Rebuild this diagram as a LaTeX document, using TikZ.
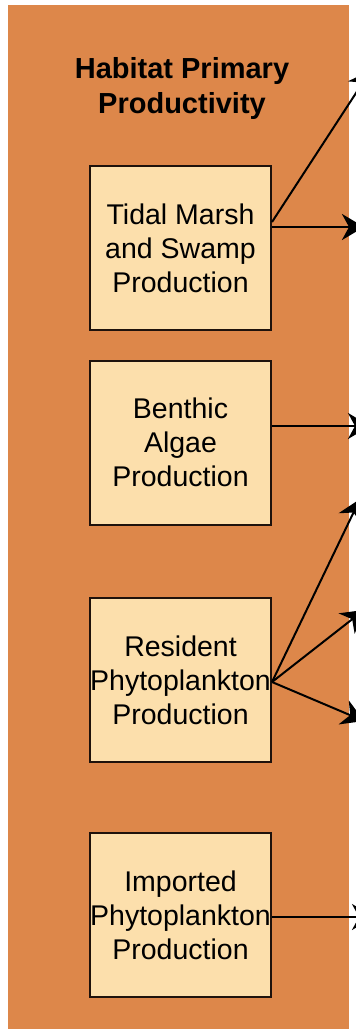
\documentclass[tikz,border=0pt]{standalone}
\usepackage{fontspec}
\setmainfont{Liberation Sans}
\usetikzlibrary{arrows.meta}
\definecolor{panelorange}{RGB}{221,135,74}
\definecolor{boxfill}{RGB}{252,223,172}
\definecolor{boxline}{RGB}{30,18,12}
\tikzset{
  prodbox/.style={draw=boxline, line width=2pt, fill=boxfill, minimum width=181pt, minimum height=164pt, inner sep=0pt, align=center, font=\fontsize{28.5}{34}\selectfont},
  flow/.style={draw=black, line width=2pt, -{Stealth[length=22pt, width=26pt, inset=7pt]}},
  titletext/.style={align=center, font=\bfseries\fontsize{29}{35}\selectfont, inner sep=0pt}
}
\begin{document}
\begin{tikzpicture}[x=1pt, y=-1pt]
\useasboundingbox (0,0) rectangle (356,1029);
\clip (0,0) rectangle (356,1029);
\fill[white] (0,0) rectangle (356,1029);
\fill[panelorange] (8,5) rectangle (349,1035);
\node[titletext] (title) at (182,88) {Habitat Primary\\Productivity};
\node[prodbox] (tidal) at (180.5,248) {Tidal Marsh\\and Swamp\\Production};
\node[prodbox] (benthic) at (180.5,442.5) {Benthic\\Algae\\Production};
\node[prodbox] (resident) at (180.5,680) {Resident\\Phytoplankton\\Production};
\node[prodbox] (imported) at (180.5,915) {Imported\\Phytoplankton\\Production};
\coordinate (t1) at (371,70);
\coordinate (t2) at (364,227);
\coordinate (b1) at (370,426);
\coordinate (r1) at (360,499);
\coordinate (r2) at (364,610);
\coordinate (r3) at (364,721);
\coordinate (i1) at (374,917);
\draw[flow] ([yshift=26pt]tidal.east) -- (t1);
\draw[flow, line width=2.6pt] ([yshift=21pt]tidal.east) -- (t2);
\draw[flow] ([yshift=16.5pt]benthic.east) -- (b1);
\draw[flow] ([yshift=-2pt]resident.east) -- (r1);
\draw[flow] ([yshift=-2pt]resident.east) -- (r2);
\draw[flow] ([yshift=-2pt]resident.east) -- (r3);
\draw[flow] ([yshift=-2pt]imported.east) -- (i1);
\end{tikzpicture}
\end{document}
